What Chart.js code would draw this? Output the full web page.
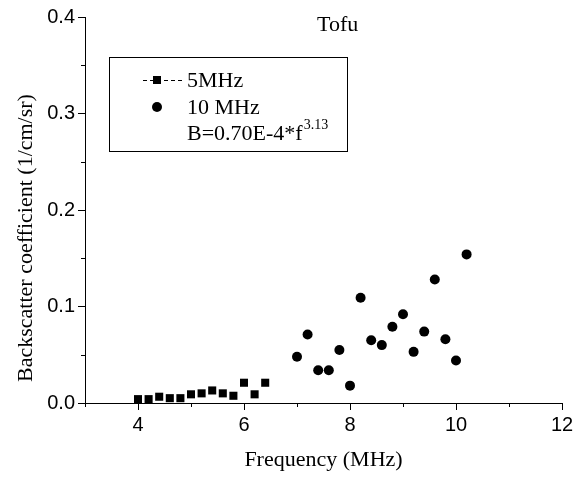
<!DOCTYPE html>
<html>
<head>
  <meta charset="utf-8">
  <title>Tofu backscatter coefficient</title>
  <script src="https://cdn.jsdelivr.net/npm/chart.js"></script>
  <style>
    body { margin: 0; background: #fff; }
    #wrap { width: 577px; height: 477px; }
  </style>
</head>
<body>
  <div id="wrap"><canvas id="bscChart" width="577" height="477"></canvas></div>

  <script>
    // 5 MHz transducer (squares)
    const freq5 = [4.0, 4.2, 4.4, 4.6, 4.8, 5.0, 5.2, 5.4, 5.6, 5.8, 6.0, 6.2, 6.4];
    const bsc5  = [0.004, 0.004, 0.0065, 0.005, 0.005, 0.009, 0.010, 0.013, 0.010, 0.0075, 0.021, 0.009, 0.021];

    // 10 MHz transducer (circles)
    const freq10 = [7.0, 7.2, 7.4, 7.6, 7.8, 8.0, 8.2, 8.4, 8.6, 8.8, 9.0, 9.2, 9.4, 9.6, 9.8, 10.0, 10.2];
    const bsc10  = [0.048, 0.071, 0.034, 0.034, 0.055, 0.018, 0.109, 0.065, 0.060, 0.079, 0.092, 0.053, 0.074, 0.128, 0.066, 0.044, 0.154];

    const xMin = 3, xMax = 12;
    const yMin = 0, yMax = 0.4;

    const serif = "'Liberation Serif', 'Times New Roman', serif";
    const sans = "'Liberation Sans', Arial, sans-serif";

    const toPoints = (xs, ys) => xs.map((x, i) => ({ x: x, y: ys[i] }));
    const isMajorY = v => Math.abs(v * 10 - Math.round(v * 10)) < 1e-6;
    const isMajorX = v => Math.round(v) % 2 === 0;

    // minor ticks, y title (sits a bit low, like the original), title and boxed legend
    const decor = {
      id: 'decor',
      afterDraw(chart) {
        const ctx = chart.ctx;
        const xs = chart.scales.x, ys = chart.scales.y;
        ctx.save();
        ctx.strokeStyle = '#000';
        ctx.lineWidth = 1;

        // minor ticks
        ctx.beginPath();
        ys.ticks.forEach(t => {
          if (!isMajorY(t.value)) {
            const py = Math.round(ys.getPixelForValue(t.value)) + 0.5;
            ctx.moveTo(xs.left - 4, py);
            ctx.lineTo(xs.left, py);
          }
        });
        xs.ticks.forEach(t => {
          if (!isMajorX(t.value)) {
            const px = Math.round(xs.getPixelForValue(t.value)) + 0.5;
            ctx.moveTo(px, ys.bottom);
            ctx.lineTo(px, ys.bottom + 4);
          }
        });
        ctx.stroke();

        ctx.fillStyle = '#000';

        // y axis title
        ctx.save();
        ctx.translate(26, 238);
        ctx.rotate(-Math.PI / 2);
        ctx.font = '22px ' + serif;
        ctx.textAlign = 'center';
        ctx.textBaseline = 'middle';
        ctx.fillText('Backscatter coefficient (1/cm/sr)', 0, 0);
        ctx.restore();

        // title
        ctx.font = '22px ' + serif;
        ctx.textBaseline = 'alphabetic';
        ctx.textAlign = 'left';
        ctx.fillText('Tofu', 317, 31);

        // legend box
        ctx.strokeRect(109.5, 57.5, 238, 94);

        // 5MHz row
        ctx.setLineDash([4, 3]);
        ctx.beginPath();
        ctx.moveTo(143, 80.5);
        ctx.lineTo(183, 80.5);
        ctx.stroke();
        ctx.setLineDash([]);
        ctx.fillRect(153, 76, 8, 8);
        ctx.textBaseline = 'middle';
        ctx.fillText('5MHz', 187, 81);

        // 10 MHz row
        ctx.beginPath();
        ctx.arc(157, 107, 5, 0, Math.PI * 2);
        ctx.fill();
        ctx.fillText('10 MHz', 187, 108);

        // fit formula with superscript
        const base = 'B=0.70E-4*f';
        ctx.fillText(base, 187, 134);
        const w = ctx.measureText(base).width;
        ctx.font = '14px ' + serif;
        ctx.fillText('3.13', 187 + w + 1, 125);

        ctx.restore();
      }
    };

    const ctx = document.getElementById('bscChart').getContext('2d');
    const bscChart = new Chart(ctx, {
      type: 'scatter',
      data: {
        datasets: [
          {
            label: '5MHz',
            data: toPoints(freq5, bsc5),
            pointStyle: 'rect',
            pointRadius: 5.7,
            backgroundColor: '#000',
            borderColor: '#000',
            borderWidth: 0,
            showLine: false
          },
          {
            label: '10 MHz',
            data: toPoints(freq10, bsc10),
            pointStyle: 'circle',
            pointRadius: 5,
            backgroundColor: '#000',
            borderColor: '#000',
            borderWidth: 0,
            showLine: false
          }
        ]
      },
      options: {
        responsive: false,
        animation: false,
        layout: { padding: { top: 17, right: 15, left: 0, bottom: 0 } },
        plugins: {
          legend: { display: false },
          tooltip: { enabled: false }
        },
        scales: {
          x: {
            type: 'linear',
            min: xMin,
            max: xMax,
            border: { display: true, color: '#000', width: 1 },
            grid: {
              drawOnChartArea: false,
              drawTicks: true,
              tickLength: 7,
              tickColor: c => isMajorX(c.tick.value) ? '#000' : 'rgba(0,0,0,0)'
            },
            ticks: {
              stepSize: 1,
              color: '#000',
              padding: 3,
              maxRotation: 0,
              autoSkip: false,
              font: { family: sans, size: 20 },
              callback: v => (isMajorX(v) && v >= 4) ? String(v) : ''
            },
            title: {
              display: true,
              text: 'Frequency (MHz)',
              color: '#000',
              font: { family: serif, size: 22 },
              padding: { top: 0, bottom: 4 }
            },
            afterFit: s => { s.height = 74; }
          },
          y: {
            type: 'linear',
            min: yMin,
            max: yMax,
            border: { display: true, color: '#000', width: 1 },
            grid: {
              drawOnChartArea: false,
              drawTicks: true,
              tickLength: 7,
              tickColor: c => isMajorY(c.tick.value) ? '#000' : 'rgba(0,0,0,0)'
            },
            ticks: {
              stepSize: 0.05,
              color: '#000',
              padding: 3,
              autoSkip: false,
              font: { family: sans, size: 20 },
              callback: v => isMajorY(v) ? v.toFixed(1) : ''
            },
            title: { display: false },
            afterFit: s => { s.width = 85; }
          }
        }
      },
      plugins: [decor]
    });
  </script>
</body>
</html>
